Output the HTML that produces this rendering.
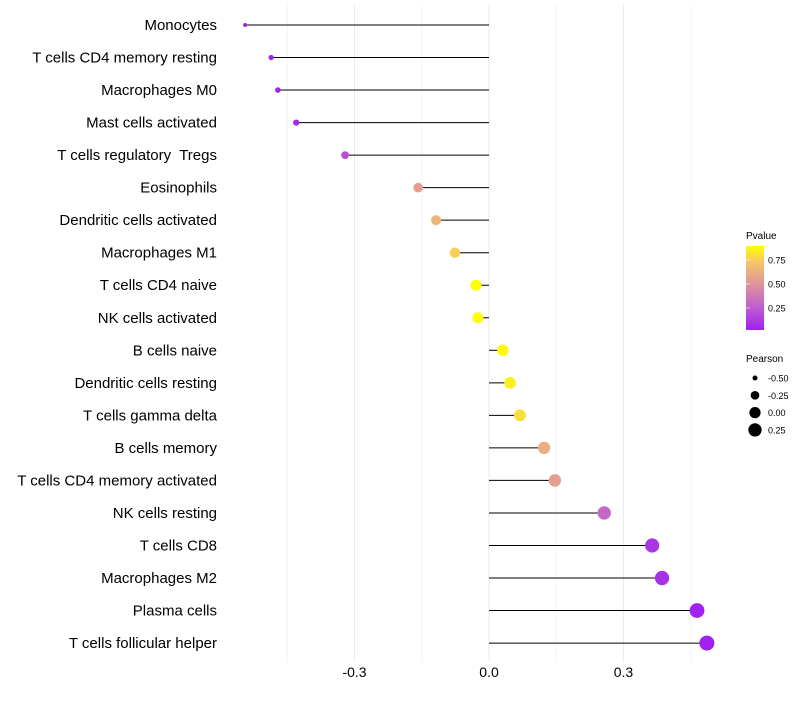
<!DOCTYPE html>
<html><head><meta charset="utf-8"><style>
body{margin:0;background:#fff;font-family:"Liberation Sans",sans-serif;}
</style></head><body>
<svg id="chart" width="800" height="700" xmlns="http://www.w3.org/2000/svg">
<defs><linearGradient id="pg" x1="0" y1="1" x2="0" y2="0">
<stop offset="0" stop-color="#A020F0"/><stop offset="0.3" stop-color="#C264CC"/><stop offset="0.55" stop-color="#E0949A"/><stop offset="0.8" stop-color="#F4C46C"/><stop offset="1" stop-color="#FFFF00"/></linearGradient></defs>
<g id="grid"></g>
<g id="marks"></g>
<g id="labels"></g>
<g id="xticks"></g>
<g>
<text x="746" y="239" font-size="10" fill="#000">Pvalue</text>
<rect x="746" y="246" width="18" height="84" fill="url(#pg)"/>
<g id="cbticks"></g>
</g>
<g id="sizeleg">
<text x="746" y="362" font-size="10" fill="#000">Pearson</text>
</g>
</svg>
<script>
const categories=["Monocytes","T cells CD4 memory resting","Macrophages M0","Mast cells activated","T cells regulatory  Tregs","Eosinophils","Dendritic cells activated","Macrophages M1","T cells CD4 naive","NK cells activated","B cells naive","Dendritic cells resting","T cells gamma delta","B cells memory","T cells CD4 memory activated","NK cells resting","T cells CD8","Macrophages M2","Plasma cells","T cells follicular helper"];
const pearson=[-0.544,-0.486,-0.471,-0.43,-0.321,-0.158,-0.118,-0.076,-0.029,-0.025,0.031,0.047,0.069,0.123,0.147,0.257,0.364,0.386,0.464,0.486];
const pvalue=[0.02,0.03,0.03,0.05,0.2,0.55,0.65,0.75,0.9,0.9,0.88,0.85,0.8,0.62,0.55,0.3,0.1,0.08,0.03,0.02];
const xTicks=[-0.3,0.0,0.3];
const xTickLabels=["-0.3","0.0","0.3"];
const xMinor=[-0.45,-0.15,0.15,0.45];
const pTicks=[0.25,0.5,0.75];
const pTickLabels=["0.25","0.50","0.75"];
const sizeLegVals=[-0.5,-0.25,0,0.25];
const sizeLegLabels=["-0.50","-0.25","0.00","0.25"];

const NS="http://www.w3.org/2000/svg";
const x=v=>489+v*448.3;
const y=i=>25+i*32.53;
const r=v=>Math.sqrt(4+Math.max(0,v+0.544)*50.7);
const pY=p=>330-(p-0.02)/(0.896-0.02)*84;
const stops=[[0,[160,32,240]],[0.3,[194,100,204]],[0.55,[224,148,154]],[0.8,[244,196,108]],[1,[255,255,0]]];
function col(p){let t=(p-0.02)/(0.876);t=Math.max(0,Math.min(1,t));
 for(let k=1;k<stops.length;k++){if(t<=stops[k][0]){const a=stops[k-1],b=stops[k];const f=(t-a[0])/(b[0]-a[0]);
 return "rgb("+a[1].map((c,j)=>Math.round(c+(b[1][j]-c)*f)).join(",")+")";}}return "rgb(255,255,0)";}
function mk(tag,attrs,parent,txt){const e=document.createElementNS(NS,tag);for(const k in attrs)e.setAttribute(k,attrs[k]);if(txt!==undefined)e.textContent=txt;document.getElementById(parent).appendChild(e);return e;}
xMinor.forEach(v=>{const e=mk("line",{x1:x(v),x2:x(v),y1:5,y2:662,stroke:"#f4f4f4","stroke-width":1},"grid");

});
xTicks.forEach((v,i)=>{const e=mk("line",{x1:x(v),x2:x(v),y1:5,y2:662,stroke:"#ebebeb","stroke-width":1},"grid");


const t=mk("text",{x:x(v),y:677,"font-size":14,"text-anchor":"middle",fill:"#000"},"xticks",xTickLabels[i]);

});
categories.forEach((c,i)=>{
 const l=mk("line",{x1:x(0),x2:x(pearson[i]),y1:y(i),y2:y(i),stroke:"#000","stroke-width":1},"marks");
 
 
 const d=mk("circle",{cx:x(pearson[i]),cy:y(i),r:r(pearson[i]),fill:col(pvalue[i])},"marks");
 
 
 const t=mk("text",{x:217,y:y(i)+5,"font-size":15,"text-anchor":"end",fill:"#000"},"labels",c);
 
 
 t.setAttribute('xml:space','preserve');t.style.whiteSpace="pre";
});
pTicks.forEach((p,i)=>{const l=mk("line",{x1:746,x2:750,y1:pY(p),y2:pY(p),stroke:"#fff","stroke-opacity":0.6},"cbticks");


const t=mk("text",{x:768,y:pY(p)+3.5,"font-size":9,fill:"#000"},"cbticks",pTickLabels[i]);

});
sizeLegVals.forEach((v,i)=>{const cy=378+i*17.3;
const c=mk("circle",{cx:755,cy:cy,r:r(v),fill:"#000"},"sizeleg");


const t=mk("text",{x:768,y:cy+3.5,"font-size":9,fill:"#000"},"sizeleg",sizeLegLabels[i]);

});
</script>
</body></html>
